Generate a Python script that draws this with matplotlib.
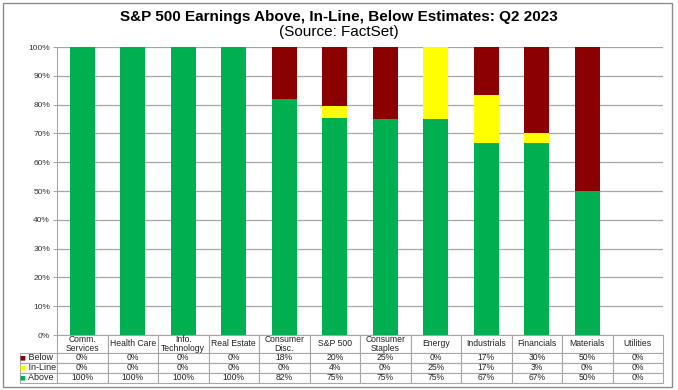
import matplotlib
matplotlib.use("Agg")
from matplotlib import pyplot as plt
from matplotlib.patches import Rectangle
import numpy as np

plt.rcParams['font.family'] = ['Liberation Sans', 'DejaVu Sans']

categories = ["Comm.\nServices", "Health Care", "Info.\nTechnology", "Real Estate",
              "Consumer\nDisc.", "S&P 500", "Consumer\nStaples", "Energy",
              "Industrials", "Financials", "Materials", "Utilities"]
below = [0, 0, 0, 0, 18, 20, 25, 0, 17, 30, 50, 0]
inline = [0, 0, 0, 0, 0, 4, 0, 25, 17, 3, 0, 0]
above = [100, 100, 100, 100, 82, 75, 75, 75, 67, 67, 50, 0]
# bar heights (stacked, as drawn in the chart)
bar_above = [100, 100, 100, 100, 82, 75.5, 75, 75, 66.7, 66.7, 50, 0]
bar_inline = [0, 0, 0, 0, 0, 4, 0, 25, 16.7, 3.3, 0, 0]
bar_below = [0, 0, 0, 0, 18, 20.5, 25, 0, 16.6, 30, 50, 0]

GREEN = '#00B050'
YELLOW = '#FFFF00'
RED = '#8B0000'
GRID = '#A6A6A6'

W, H = 678, 390
fig = plt.figure(figsize=(W / 100, H / 100), dpi=100)
ax = fig.add_axes([57 / W, (H - 335) / H, (663 - 57) / W, (335 - 47) / H])

x = np.arange(len(categories))
ab = np.array(bar_above)
il = np.array(bar_inline)
bl = np.array(bar_below)
ax.bar(x, ab, width=0.5, color=GREEN, zorder=3)
ax.bar(x, il, width=0.5, bottom=ab, color=YELLOW, zorder=3)
ax.bar(x, bl, width=0.5, bottom=ab + il, color=RED, zorder=3)

ax.set_xlim(-0.5, len(categories) - 0.5)
ax.set_ylim(0, 100)
ax.set_yticks(np.arange(0, 101, 10))
ax.set_yticklabels([f"{v}%" for v in range(0, 101, 10)], fontsize=6, color='#333333')
ax.set_xticks([])
ax.grid(axis='y', color=GRID, linewidth=0.9, zorder=0)
for s in ['top', 'right', 'bottom']:
    ax.spines[s].set_visible(False)
ax.spines['left'].set_color(GRID)
ax.tick_params(axis='y', length=3, color=GRID, pad=2)

# data table
cell_text = [[f"{v}%" for v in below],
             [f"{v}%" for v in inline],
             [f"{v}%" for v in above]]
row_labels = ["Below", "In-Line", "Above"]
AW, AH = 606, 288
tbl = ax.table(cellText=cell_text, rowLabels=row_labels, colLabels=categories,
               cellLoc='center', rowLoc='left',
               bbox=[0, -48 / AH, 1, 48 / AH])
tbl.auto_set_font_size(False)
for (r, c), cell in tbl.get_celld().items():
    cell.set_edgecolor(GRID)
    cell.set_linewidth(0.8)
    cell.get_text().set_fontsize(6.2)
    cell.get_text().set_color('#222222')
    cell.set_height((18 if r == 0 else 10) / AH)
    cell.set_width(40 / AW if c == -1 else 1 / 12)
    if c == -1:
        cell.get_text().set_text("   " + cell.get_text().get_text())
        cell.get_text().set_fontsize(6.5)
        cell.PAD = 0.02
    if r == 0:
        cell.get_text().set_linespacing(0.95)

marker_colors = [RED, YELLOW, GREEN]
for i, col in enumerate(marker_colors):
    yc = -(18 + 10 * i + 5) / AH
    ax.text(-38 / AW, yc, "■", color=col, fontsize=4.5, ha='left', va='center',
            transform=ax.transAxes, clip_on=False, family='DejaVu Sans')

fig.text(0.5, (H - 17) / H, "S&P 500 Earnings Above, In-Line, Below Estimates: Q2 2023",
         ha='center', va='center', fontsize=11, fontweight='bold')
fig.text(0.5, (H - 32) / H, "(Source: FactSet)", ha='center', va='center', fontsize=11)

fig.patches.append(Rectangle((3 / W, 3 / H), 669 / W, 384 / H, transform=fig.transFigure,
                             fill=False, edgecolor='#8C8C8C', linewidth=1))

fig.savefig("out.png", dpi=100)
